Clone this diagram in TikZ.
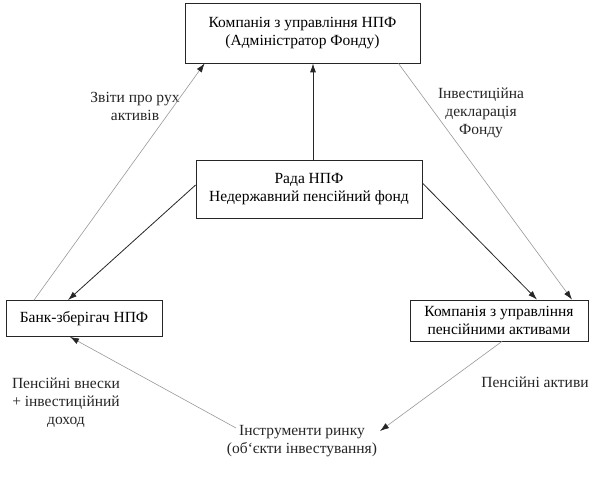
\documentclass[tikz,border=0pt]{standalone}
\usepackage{fontspec}
\setmainfont{Liberation Serif}
\usetikzlibrary{arrows.meta,calc}
\begin{document}
\begin{tikzpicture}[x=1pt,y=-1pt,
  every node/.style={font=\fontsize{15.5}{18}\selectfont},
  box/.style={draw=black!85,line width=0.8pt,align=center,inner sep=0pt},
  lbl/.style={align=center,inner sep=0pt,text=black!85},
  main/.style={draw=black!85,line width=0.8pt,-{Latex[length=9pt,width=6pt]}},
  thin/.style={draw=black!40,line width=0.6pt,-{Latex[length=9pt,width=6pt,color=black!85]}}]
\fill[white] (0,0) rectangle (598,489);
\useasboundingbox (0,0) rectangle (598,489);
\node[box,minimum width=235pt,minimum height=60pt] (adm) at (302.5,33) {Компанія з управління НПФ\\(Адміністратор Фонду)};
\node[box,minimum width=226pt,minimum height=58pt] (rada) at (309,189) {Рада НПФ\\Недержавний пенсійний фонд};
\node[box,minimum width=156pt,minimum height=36pt] (bank) at (84,318.5) {Банк-зберігач НПФ};
\node[box,minimum width=178pt,minimum height=41pt] (kua) at (499,320.5) {Компанія з управління\\пенсійними активами};
\node[lbl] (instr) at (302,441) {Інструменти ринку\\(об`єкти інвестування)};
\coordinate (instrL) at (236,428);
\coordinate (instrR) at (380,431);
\node[lbl] (l1) at (135,106) {Звіти про рух\\активів};
\node[lbl] (l2) at (481,113) {Інвестиційна\\декларація\\Фонду};
\node[lbl] (l3) at (535,382) {Пенсійні активи};
\node[lbl] (l4) at (66,403) {Пенсійні внески\\+ інвестиційний\\доход};
\draw[main] ([xshift=4pt]rada.north) -- ([xshift=10.5pt]adm.south);
\draw[main] ([yshift=4pt]rada.west) -- ([xshift=-16pt]bank.north);
\draw[main] ([yshift=6pt]rada.east) -- ([xshift=38pt]kua.north);
\draw[thin] ([xshift=-50pt]bank.north) -- ([xshift=20pt]adm.south west);
\draw[thin] ([xshift=-22pt]adm.south east) -- ([xshift=73pt]kua.north);
\draw[thin] ([xshift=3pt]kua.south) -- (instrR);
\draw[thin] (instrL) -- ([xshift=-14pt]bank.south);
\end{tikzpicture}
\end{document}
